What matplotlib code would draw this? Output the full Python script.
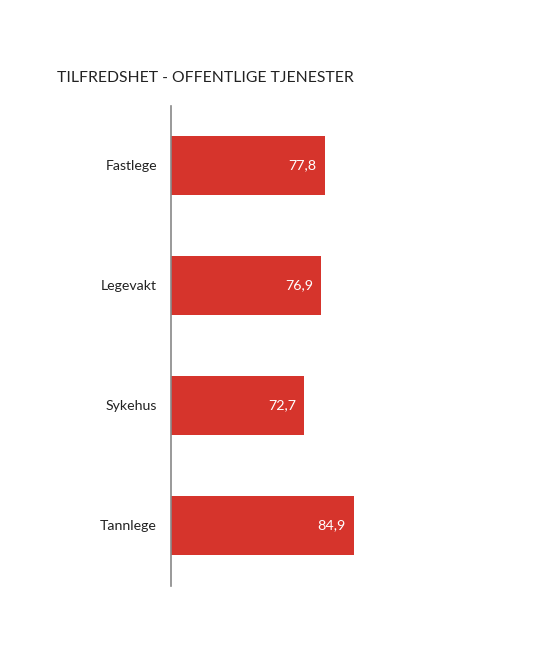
"""Satisfaction with public services - horizontal bar chart."""
import matplotlib.pyplot as plt

categories = ["Fastlege", "Legevakt", "Sykehus", "Tannlege"]
values = [77.8, 76.9, 72.7, 84.9]
value_labels = ["77,8", "76,9", "72,7", "84,9"]
title = "TILFREDSHET - OFFENTLIGE TJENESTER"

plt.rcParams["font.family"] = ["Lato", "DejaVu Sans"]

fig = plt.figure(figsize=(5.38, 6.55), dpi=100)
axe = fig.add_axes([171 / 538, 69.5 / 655, 245 / 538, 480 / 655])

pos = list(range(len(categories)))
bars = axe.barh(pos, values, height=0.49, color="#d6342c", left=0)
axe.set_xlim(40.2, 100)
axe.set_ylim(len(categories) - 0.5, -0.5)

for bar, text in zip(bars, value_labels):
    axe.annotate(text, xy=(bar.get_width(), bar.get_y() + bar.get_height() / 2),
                 xytext=(-6, 0), textcoords="offset points", ha="right", va="center",
                 color="white", fontsize=10.3)

axe.set_yticks(pos)
axe.set_yticklabels(categories, fontsize=10.2, color="#222222")
axe.tick_params(axis="y", length=0, pad=10)
axe.set_xticks([])
for side in ("top", "right", "bottom"):
    axe.spines[side].set_visible(False)
axe.spines["left"].set_color("#888888")
axe.spines["left"].set_linewidth(1.2)

fig.text(57 / 538, 1 - 78 / 655, title, fontsize=11.3, color="#222222", va="center", ha="left")

fig.savefig("out.png", dpi=100)
